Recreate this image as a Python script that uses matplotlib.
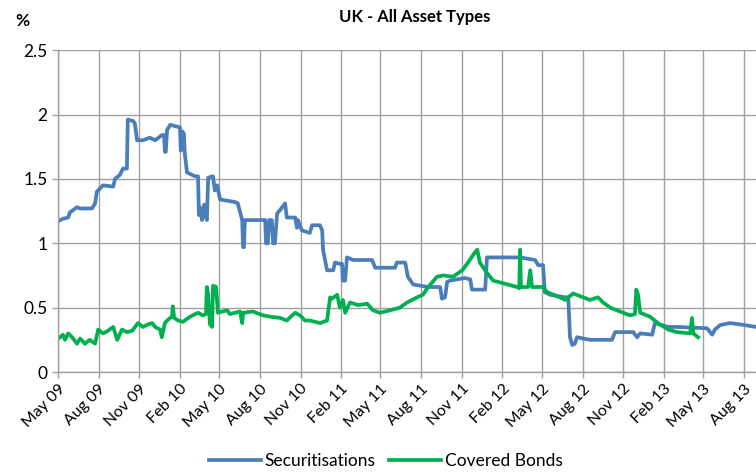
import matplotlib
matplotlib.use("Agg")
import matplotlib.pyplot as plt
import numpy as np
import pandas as pd

plt.rcParams['font.family'] = ['Lato', 'DejaVu Sans']

# Securitisations (%)
sec_dates = [
    "2009-05-01", "2009-05-12", "2009-05-24", "2009-05-28", "2009-06-13", "2009-06-20",
    "2009-07-17", "2009-07-24", "2009-07-28", "2009-08-11", "2009-09-03", "2009-09-07",
    "2009-09-18", "2009-09-25", "2009-10-04", "2009-10-06", "2009-10-18", "2009-10-22",
    "2009-10-27", "2009-11-09", "2009-11-25", "2009-12-07", "2009-12-22", "2009-12-27",
    "2009-12-29", "2009-12-31", "2010-01-03", "2010-01-10", "2010-02-01", "2010-02-03",
    "2010-02-06", "2010-02-10", "2010-02-12", "2010-02-17", "2010-03-07", "2010-03-14",
    "2010-03-16", "2010-03-18", "2010-03-23", "2010-03-28", "2010-04-01", "2010-04-03",
    "2010-04-06", "2010-04-17", "2010-04-21", "2010-04-26", "2010-05-03", "2010-06-06",
    "2010-06-12", "2010-06-22", "2010-06-24", "2010-06-26", "2010-06-28", "2010-08-13",
    "2010-08-15", "2010-08-19", "2010-08-22", "2010-08-28", "2010-08-31", "2010-09-04",
    "2010-09-09", "2010-09-16", "2010-09-27", "2010-10-01", "2010-10-20", "2010-10-24",
    "2010-10-26", "2010-11-04", "2010-11-22", "2010-11-27", "2010-12-15", "2010-12-20",
    "2010-12-22", "2010-12-31", "2011-01-14", "2011-01-18", "2011-01-29", "2011-02-03",
    "2011-02-05", "2011-02-10", "2011-02-14", "2011-02-28", "2011-04-12", "2011-04-19",
    "2011-06-03", "2011-06-07", "2011-06-26", "2011-07-02", "2011-07-14", "2011-08-17",
    "2011-09-13", "2011-09-17", "2011-09-24", "2011-09-29", "2011-10-05", "2011-11-08",
    "2011-11-20", "2011-11-24", "2011-12-24", "2011-12-28", "2012-01-27", "2012-03-12",
    "2012-04-15", "2012-04-22", "2012-05-03", "2012-05-07", "2012-05-19", "2012-06-22",
    "2012-06-29", "2012-07-03", "2012-07-08", "2012-07-14", "2012-07-19", "2012-08-17",
    "2012-10-06", "2012-10-13", "2012-11-23", "2012-12-02", "2012-12-09", "2013-01-05",
    "2013-01-11", "2013-02-10", "2013-03-02", "2013-05-09", "2013-05-21", "2013-05-27",
    "2013-06-08", "2013-06-30", "2013-07-23", "2013-08-28",
]
sec_values = [
    1.17, 1.19, 1.20, 1.24, 1.28, 1.27,
    1.27, 1.31, 1.40, 1.45, 1.44, 1.50,
    1.53, 1.58, 1.58, 1.96, 1.95, 1.93,
    1.80, 1.80, 1.82, 1.80, 1.84, 1.84,
    1.71, 1.71, 1.88, 1.92, 1.90, 1.72,
    1.87, 1.85, 1.70, 1.55, 1.52, 1.52,
    1.22, 1.28, 1.18, 1.30, 1.20, 1.18,
    1.51, 1.52, 1.41, 1.45, 1.34, 1.32,
    1.31, 1.18, 0.97, 0.97, 1.18, 1.18,
    1.00, 1.00, 1.18, 1.18, 1.00, 1.00,
    1.23, 1.26, 1.31, 1.20, 1.20, 1.12,
    1.18, 1.10, 1.08, 1.14, 1.14, 1.10,
    0.95, 0.79, 0.79, 0.85, 0.84, 0.84,
    0.71, 0.71, 0.89, 0.87, 0.87, 0.81,
    0.81, 0.85, 0.85, 0.74, 0.68, 0.66,
    0.66, 0.57, 0.58, 0.70, 0.71, 0.73,
    0.72, 0.64, 0.64, 0.89, 0.89, 0.89,
    0.87, 0.83, 0.83, 0.62, 0.60, 0.58,
    0.58, 0.27, 0.21, 0.22, 0.27, 0.25,
    0.25, 0.31, 0.31, 0.27, 0.30, 0.29,
    0.38, 0.35, 0.35, 0.34, 0.29, 0.33,
    0.365, 0.38, 0.37, 0.35,
]

# Covered Bonds (%)
cb_dates = [
    "2009-05-01", "2009-05-06", "2009-05-12", "2009-05-17", "2009-05-24", "2009-06-02",
    "2009-06-13", "2009-06-20", "2009-07-01", "2009-07-12", "2009-07-24", "2009-07-31",
    "2009-08-11", "2009-08-22", "2009-09-03", "2009-09-12", "2009-09-23", "2009-10-04",
    "2009-10-16", "2009-10-29", "2009-11-09", "2009-11-21", "2009-11-30", "2009-12-07",
    "2009-12-18", "2009-12-22", "2009-12-29", "2010-01-03", "2010-01-10", "2010-01-14",
    "2010-01-16", "2010-01-19", "2010-01-28", "2010-02-08", "2010-02-24", "2010-03-14",
    "2010-03-25", "2010-04-01", "2010-04-03", "2010-04-06", "2010-04-10", "2010-04-15",
    "2010-04-17", "2010-04-24", "2010-04-28", "2010-05-19", "2010-05-25", "2010-06-17",
    "2010-06-22", "2010-06-24", "2010-07-16", "2010-08-08", "2010-08-24", "2010-09-16",
    "2010-10-01", "2010-10-13", "2010-10-20", "2010-10-31", "2010-11-11", "2010-11-22",
    "2010-12-15", "2010-12-31", "2011-01-07", "2011-01-11", "2011-01-23", "2011-01-29",
    "2011-02-05", "2011-02-10", "2011-02-21", "2011-03-11", "2011-04-01", "2011-04-14",
    "2011-04-30", "2011-05-23", "2011-06-14", "2011-06-30", "2011-07-23", "2011-08-05",
    "2011-08-17", "2011-09-06", "2011-09-20", "2011-10-12", "2011-11-02", "2011-11-15",
    "2011-12-01", "2011-12-06", "2011-12-12", "2011-12-28", "2012-01-11", "2012-02-02",
    "2012-03-05", "2012-03-10", "2012-03-12", "2012-03-14", "2012-03-30", "2012-04-04",
    "2012-04-08", "2012-05-03", "2012-05-12", "2012-06-10", "2012-06-22", "2012-07-10",
    "2012-08-02", "2012-08-17", "2012-09-04", "2012-09-16", "2012-10-02", "2012-10-24",
    "2012-11-16", "2012-11-27", "2012-11-30", "2012-12-04", "2012-12-09", "2012-12-31",
    "2013-01-18", "2013-02-10", "2013-03-02", "2013-04-01", "2013-04-05", "2013-04-08",
    "2013-04-19",
]
cb_values = [
    0.26, 0.27, 0.29, 0.25, 0.30, 0.27,
    0.22, 0.26, 0.22, 0.25, 0.22, 0.33,
    0.30, 0.32, 0.35, 0.25, 0.33, 0.31,
    0.32, 0.38, 0.35, 0.37, 0.38, 0.35,
    0.33, 0.27, 0.38, 0.40, 0.42, 0.43,
    0.51, 0.42, 0.40, 0.39, 0.43, 0.46,
    0.44, 0.45, 0.66, 0.60, 0.37, 0.35,
    0.67, 0.66, 0.46, 0.48, 0.45, 0.47,
    0.38, 0.46, 0.47, 0.44, 0.43, 0.42,
    0.40, 0.44, 0.46, 0.44, 0.40, 0.40,
    0.38, 0.40, 0.58, 0.57, 0.60, 0.50,
    0.56, 0.46, 0.54, 0.52, 0.53, 0.48,
    0.46, 0.48, 0.50, 0.54, 0.58, 0.60,
    0.66, 0.74, 0.75, 0.74, 0.79, 0.85,
    0.93, 0.95, 0.85, 0.77, 0.71, 0.69,
    0.66, 0.65, 0.95, 0.66, 0.66, 0.79,
    0.66, 0.66, 0.62, 0.58, 0.56, 0.61,
    0.58, 0.56, 0.58, 0.54, 0.50, 0.47,
    0.44, 0.45, 0.64, 0.60, 0.46, 0.43,
    0.38, 0.33, 0.31, 0.30, 0.42, 0.30,
    0.27,
]

tick_dates = pd.date_range("2009-05-01", "2013-08-01", freq="3MS")

fig = plt.figure(figsize=(7.56, 4.73), dpi=100)
ax = fig.add_axes([0.0767, 0.2135, 0.9233, 0.6805])

ax.plot(pd.to_datetime(sec_dates), sec_values, color="#4A7EBB", lw=2.7,
        label="Securitisations", solid_joinstyle="round")
ax.plot(pd.to_datetime(cb_dates), cb_values, color="#00B050", lw=2.7,
        label="Covered Bonds", solid_joinstyle="round")

ax.set_xlim(pd.Timestamp("2009-05-01"), pd.Timestamp("2013-08-28"))
ax.set_ylim(0, 2.5)
ax.set_yticks(np.arange(0, 2.51, 0.5))
ax.set_yticklabels(["0", "0.5", "1", "1.5", "2", "2.5"])
ax.set_xticks(tick_dates)
ax.set_xticklabels([d.strftime("%b %y") for d in tick_dates], rotation=45,
                   ha="right", rotation_mode="anchor")
ax.tick_params(axis="y", labelsize=12.5, length=4, width=1, color="#A0A0A0")
ax.tick_params(axis="x", labelsize=11.5, length=4, width=1, color="#A0A0A0", pad=3)

ax.grid(True, color="#A0A0A0", lw=1)
ax.set_axisbelow(True)
for side in ["top", "right"]:
    ax.spines[side].set_visible(False)
for side in ["left", "bottom"]:
    ax.spines[side].set_color("#A0A0A0")
    ax.spines[side].set_linewidth(1)

fig.text(0.548, 0.965, "UK - All Asset Types", ha="center", va="center",
         fontsize=12, fontweight="bold")
fig.text(0.03, 0.955, "%", ha="center", va="center", fontsize=12.5, fontweight="bold")

fig.legend(loc="center", bbox_to_anchor=(0.51, 0.025), ncol=2, frameon=False,
           fontsize=12.5, handlelength=3.0, handletextpad=0.2, columnspacing=0.8)

fig.savefig("out.png", dpi=100)
